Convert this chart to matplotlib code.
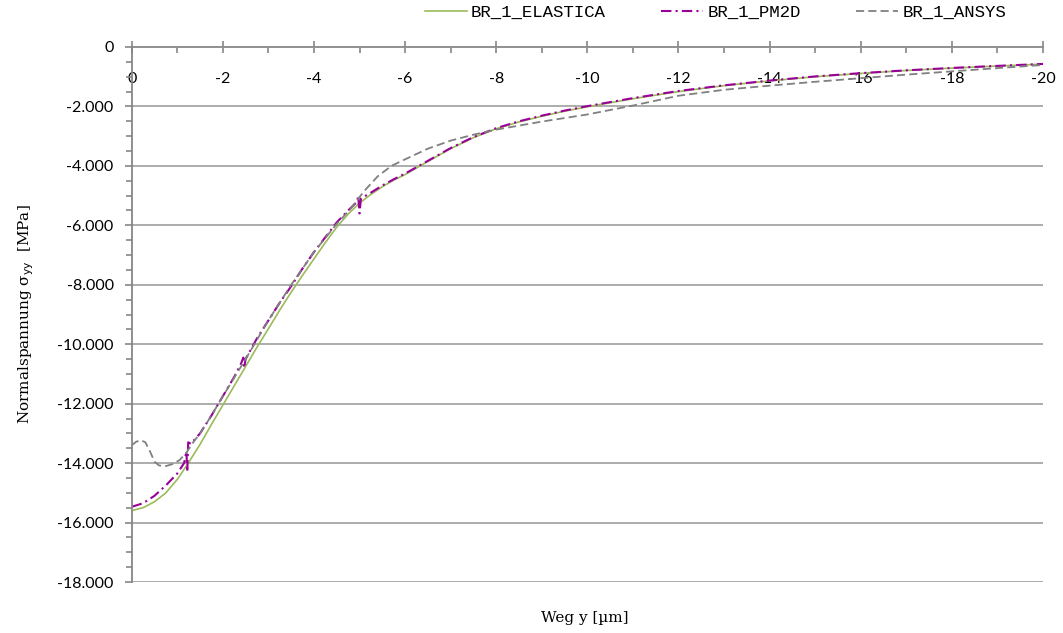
import matplotlib
matplotlib.use('Agg')
import matplotlib.pyplot as plt
from matplotlib.ticker import MultipleLocator, FuncFormatter
from matplotlib.lines import Line2D

# values (Weg y in um, sigma_yy in MPa)
elastica_x = [0, -0.25, -0.5, -0.75, -1.0, -1.25, -1.5, -1.75, -2.0, -2.25, -2.5, -2.75,
              -3.0, -3.25, -3.5, -3.75, -4.0, -4.25, -4.5, -4.75, -5.0, -5.25, -5.5, -5.75,
              -6.0, -6.5, -7.0, -7.5, -8.0, -8.5, -9.0, -9.5, -10, -11, -12, -13, -14, -15,
              -16, -17, -18, -19, -20]
elastica_y = [-15600, -15500, -15300, -15000, -14550, -13980, -13370, -12700, -12050, -11400,
              -10750, -10100, -9480, -8850, -8250, -7680, -7130, -6580, -6060, -5620, -5250,
              -4960, -4700, -4480, -4290, -3850, -3420, -3050, -2750, -2520, -2330, -2160,
              -2010, -1740, -1500, -1300, -1140, -1000, -890, -790, -710, -640, -575]

pm2d_x = [0, -0.25, -0.5, -0.75, -1.0, -1.15, -1.2, -1.22, -1.24, -1.3, -1.5, -1.75, -2.0,
          -2.25, -2.4, -2.45, -2.47, -2.5, -2.75, -3.0, -3.25, -3.5, -3.75, -4.0, -4.25,
          -4.5, -4.75, -4.95, -4.97, -5.0, -5.03, -5.25, -5.5, -5.75, -6.0, -6.5, -7.0,
          -7.5, -8.0, -8.5, -9.0, -9.5, -10, -11, -12, -13, -14, -15, -16, -17, -18, -19, -20]
pm2d_y = [-15470, -15350, -15100, -14750, -14350, -14000, -13600, -14300, -13300, -13350,
          -13000, -12400, -11750, -11100, -10650, -10450, -10800, -10500, -9800, -9200,
          -8600, -8050, -7450, -6900, -6400, -5900, -5500, -5200, -5000, -5600, -5100,
          -4900, -4660, -4450, -4260, -3830, -3400, -3030, -2730, -2500, -2310, -2140,
          -1990, -1720, -1480, -1290, -1130, -990, -880, -785, -705, -635, -570]

ansys_x = [0, -0.1, -0.2, -0.3, -0.4, -0.5, -0.6, -0.75, -0.9, -1.05, -1.2, -1.35, -1.5,
           -1.75, -2.0, -2.5, -3.0, -3.5, -4.0, -4.5, -4.8, -5.1, -5.4, -5.7, -6.0, -6.5,
           -7.0, -7.5, -8.0, -9.0, -10, -11, -12, -13, -14, -15, -16, -17, -18, -19, -20]
ansys_y = [-13400, -13280, -13230, -13300, -13600, -13950, -14080, -14100, -14030, -13900,
           -13650, -13300, -13000, -12400, -11750, -10500, -9200, -8000, -6900, -5950,
           -5450, -4850, -4350, -4000, -3780, -3420, -3150, -2950, -2780, -2510, -2270,
           -1970, -1640, -1440, -1300, -1170, -1050, -930, -820, -710, -605]

labels = ['BR_1_ELASTICA', 'BR_1_PM2D', 'BR_1_ANSYS']
colors = ['#9BBB59', '#990099', '#808080']
styles = [dict(lw=1.2), dict(lw=1.5, dashes=(5, 2, 1, 2)), dict(lw=1.3, dashes=(4.5, 2.3))]

fig = plt.figure(figsize=(10.63, 6.33), dpi=100)
ax = fig.add_axes([131.7 / 1063, 1 - 582 / 633, (1043 - 131.7) / 1063, (582 - 47) / 633])

ax.plot(elastica_x, elastica_y, color=colors[0], **styles[0])
ax.plot(pm2d_x, pm2d_y, color=colors[1], **styles[1])
ax.plot(ansys_x, ansys_y, color=colors[2], **styles[2])

ax.set_xlim(0, -20)
ax.set_ylim(-18000, 0)

ax.xaxis.set_major_locator(MultipleLocator(2))
ax.xaxis.set_minor_locator(MultipleLocator(1))
ax.yaxis.set_major_locator(MultipleLocator(2000))
ax.yaxis.set_minor_locator(MultipleLocator(500))

ax.xaxis.set_major_formatter(FuncFormatter(lambda v, p: '%d' % round(v)))
ax.yaxis.set_major_formatter(FuncFormatter(
    lambda v, p: '0' if v == 0 else ('%d' % round(v / 1000)) + '.000'))

spine_col = '#868686'
for s in ['top', 'right']:
    ax.spines[s].set_visible(False)
ax.spines['bottom'].set_position(('data', 0))
ax.spines['bottom'].set_color(spine_col)
ax.spines['left'].set_color(spine_col)
ax.spines['bottom'].set_linewidth(1.3)
ax.spines['left'].set_linewidth(1.3)
ax.spines['bottom'].set_zorder(0.5)

ax.grid(axis='y', which='major', color='#969696', lw=1.1)
ax.set_axisbelow(True)

tick_font = 'Lato'
ax.tick_params(axis='x', which='major', direction='inout', length=8, width=1.2,
               color=spine_col, pad=14, labelsize=11.5)
ax.tick_params(axis='x', which='minor', direction='out', length=4, width=1.2, color=spine_col)
ax.tick_params(axis='y', which='major', direction='out', length=5, width=1.2,
               color=spine_col, pad=8, labelsize=11.5)
ax.tick_params(axis='y', which='minor', direction='out', length=4, width=1.2, color=spine_col)
for t in ax.get_xticklabels() + ax.get_yticklabels():
    t.set_fontfamily(tick_font)

plt.rcParams['mathtext.fontset'] = 'dejavuserif'
ax.set_ylabel('Normalspannung σ$_{\\mathrm{yy}}$  [MPa]', family='DejaVu Serif',
              fontsize=11, labelpad=15)
fig.text(585 / 1063, 1 - 618 / 633, 'Weg y [µm]', family='DejaVu Serif',
         fontsize=11, ha='center', va='center')

handles = [Line2D([], [], color=c, **st) for c, st in zip(colors, styles)]
fig.legend(handles, labels, ncol=3, loc='upper left', bbox_to_anchor=(425 / 1063, 1 - 5 / 633),
           frameon=False, prop={'family': 'Liberation Mono', 'size': 12.5},
           handlelength=2.4, handletextpad=0.25, columnspacing=3.2,
           borderpad=0, borderaxespad=0)

fig.savefig('out.png', dpi=100)
